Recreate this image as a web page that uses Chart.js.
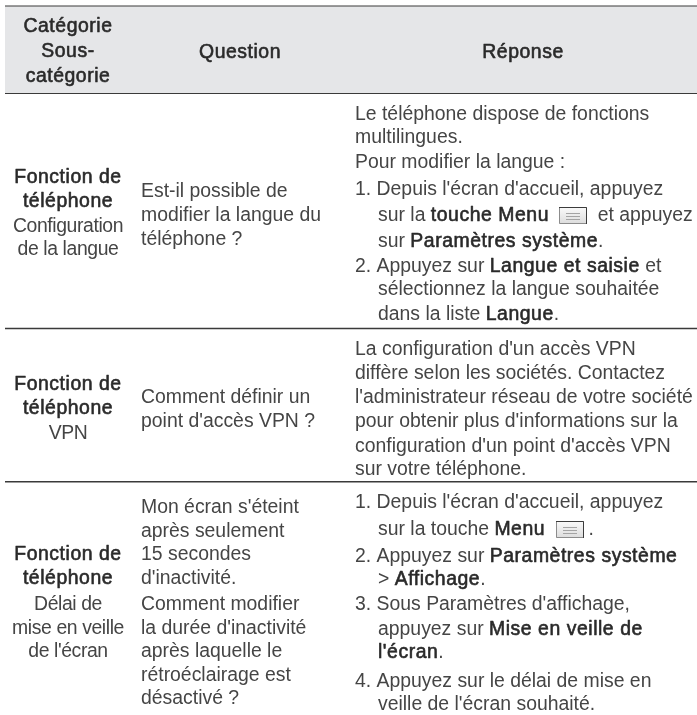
<!DOCTYPE html>
<html lang="fr">
<head>
<meta charset="utf-8">
<title>Catégorie Question Réponse</title>
<script src="https://cdn.jsdelivr.net/npm/chart.js@4"></script>
<style>
  html, body { margin: 0; padding: 0; background: #fff; }
  canvas { display: block; }
</style>
</head>
<body>
<canvas id="chart" width="697" height="715"></canvas>
<script>
// Table text. *...* marks bold, # is the menu key icon, a leading tab is the list indent
const headerCategory = ['*Catégorie*', '*Sous-*', '*catégorie*'];
const headerQuestion = ['*Question*'];
const headerAnswer = ['*Réponse*'];

const categoryRow1 = ['*Fonction de*', '*téléphone*', 'Configuration', 'de la langue'];
const categoryRow2 = ['*Fonction de*', '*téléphone*', 'VPN'];
const categoryRow3 = ['*Fonction de*', '*téléphone*', 'Délai de', 'mise en veille', "de l'écran"];

const questionRow1 = ['Est-il possible de', 'modifier la langue du', 'téléphone ?'];
const questionRow2 = ['Comment définir un', "point d'accès VPN ?"];
const questionRow3 = ["Mon écran s'éteint", 'après seulement', '15 secondes', "d'inactivité.",
  'Comment modifier', "la durée d'inactivité", 'après laquelle le', 'rétroéclairage est', 'désactivé ?'];

const answerRow1 = ['Le téléphone dispose de fonctions', 'multilingues.', 'Pour modifier la langue :',
  "1. Depuis l'écran d'accueil, appuyez", '\tsur la *touche Menu* # et appuyez', '\tsur *Paramètres système*.',
  '2. Appuyez sur *Langue et saisie* et', '\tsélectionnez la langue souhaitée', '\tdans la liste *Langue*.'];
const answerRow2 = ["La configuration d'un accès VPN", 'diffère selon les sociétés. Contactez',
  "l'administrateur réseau de votre société", "pour obtenir plus d'informations sur la",
  "configuration d'un point d'accès VPN", 'sur votre téléphone.'];
const answerRow3 = ["1. Depuis l'écran d'accueil, appuyez", '\tsur la touche *Menu* #.',
  '2. Appuyez sur *Paramètres système*', '\t> *Affichage*.', "3. Sous Paramètres d'affichage,",
  '\tappuyez sur *Mise en veille de*', "\t*l'écran*.", '4. Appuyez sur le délai de mise en',
  "\tveille de l'écran souhaité."];

// Rules and band, in page units
const ruleTop = 6.5;
const ruleHeader = 93;
const ruleRow1 = 328.5;
const ruleRow2 = 481.7;
const tableLeft = 5;
const tableRight = 697;

const fontSize = 19.4;
const categorySpacing = '-0.4px';

// Baselines of each cell
const cells = [
  { lines: headerCategory, x: 68, align: 'center', base: [32, 57, 82] },
  { lines: headerQuestion, x: 240, align: 'center', base: [58] },
  { lines: headerAnswer, x: 523, align: 'center', base: [58] },
  { lines: categoryRow1, x: 68, align: 'center', spacing: categorySpacing, base: [183, 207, 232, 255] },
  { lines: questionRow1, x: 141, align: 'left', base: [197, 221, 245] },
  { lines: answerRow1, x: 355, align: 'left', base: [120, 143, 168, 195, 221, 247, 272, 295, 320] },
  { lines: categoryRow2, x: 68, align: 'center', spacing: categorySpacing, base: [390, 414, 439] },
  { lines: questionRow2, x: 141, align: 'left', base: [403, 427] },
  { lines: answerRow2, x: 355, align: 'left', base: [355, 379, 403, 427, 452, 475] },
  { lines: categoryRow3, x: 68, align: 'center', spacing: categorySpacing, base: [560, 584, 610, 634, 657] },
  { lines: questionRow3, x: 141, align: 'left', base: [513, 537, 560, 584, 610, 634, 657, 681, 704] },
  { lines: answerRow3, x: 355, align: 'left', base: [508, 535, 562, 585, 610, 635, 658, 687, 710] }
];

const textColor = '#454545';
const boldColor = '#2a2a2a';
const fontFamily = '"Liberation Sans"';
const boldSpacing = '0.55px';
const indent = 23;
const iconWidth = 28;
const iconHeight = 17;
const iconMargin = 5;

function parseLine(line) {
  const parts = [];
  line.split('*').forEach((chunk, i) => {
    const bits = chunk.split('#');
    bits.forEach((bit, j) => {
      if (j > 0) parts.push({ icon: true });
      if (bit) parts.push({ text: bit, bold: i % 2 === 1 });
    });
  });
  return parts;
}

function setPartFont(ctx, part, spacing) {
  ctx.font = fontSize + 'px ' + fontFamily;
  ctx.letterSpacing = part.bold ? boldSpacing : spacing;
}

function partWidth(ctx, part, spacing) {
  if (part.icon) return iconWidth + iconMargin * 2;
  setPartFont(ctx, part, spacing);
  return ctx.measureText(part.text).width;
}

function drawIcon(ctx, x, baseline) {
  const left = Math.round(x + iconMargin);
  const top = Math.round(baseline - 14);
  const grad = ctx.createLinearGradient(0, top, 0, top + iconHeight);
  grad.addColorStop(0, '#fafafa');
  grad.addColorStop(1, '#dcdcdc');
  ctx.fillStyle = grad;
  ctx.fillRect(left, top, iconWidth, iconHeight);
  ctx.lineWidth = 1;
  ctx.strokeStyle = '#8c8c8c';
  ctx.strokeRect(left + 0.5, top + 0.5, iconWidth - 1, iconHeight - 1);
  // dark edge on top and right
  ctx.strokeStyle = '#3c3c3c';
  ctx.beginPath();
  ctx.moveTo(left, top + 0.5);
  ctx.lineTo(left + iconWidth - 0.5, top + 0.5);
  ctx.lineTo(left + iconWidth - 0.5, top + iconHeight);
  ctx.stroke();
  ctx.strokeStyle = '#a4a4a4';
  [6, 9, 12].forEach(dy => {
    ctx.beginPath();
    ctx.moveTo(left + 7, top + dy + 0.5);
    ctx.lineTo(left + iconWidth - 7, top + dy + 0.5);
    ctx.stroke();
  });
}

const tableText = {
  id: 'tableText',
  afterDatasetsDraw(chart) {
    const { ctx, scales } = chart;
    ctx.save();
    ctx.textBaseline = 'alphabetic';
    ctx.textAlign = 'left';
    ctx.lineJoin = 'round';
    cells.forEach(cell => {
      const spacing = cell.spacing || '0px';
      cell.lines.forEach((line, i) => {
        let x = cell.x;
        let raw = line;
        if (raw[0] === '\t') { x += indent; raw = raw.slice(1); }
        const parts = parseLine(raw);
        if (cell.align === 'center') {
          x -= parts.reduce((sum, p) => sum + partWidth(ctx, p, spacing), 0) / 2;
        }
        let px = scales.x.getPixelForValue(x);
        const py = scales.y.getPixelForValue(cell.base[i]);
        parts.forEach(part => {
          const w = partWidth(ctx, part, spacing);
          if (part.icon) {
            drawIcon(ctx, px, py);
          } else {
            setPartFont(ctx, part, spacing);
            ctx.fillStyle = part.bold ? boldColor : textColor;
            ctx.fillText(part.text, px, py);
            if (part.bold) {
              // the original weight is a medium, between regular and bold
              ctx.strokeStyle = boldColor;
              ctx.lineWidth = 0.6;
              ctx.strokeText(part.text, px, py);
            }
          }
          px += w;
        });
      });
    });
    ctx.restore();
  }
};

const ruleLine = (y, width) => ({
  data: [{ x: tableLeft, y }, { x: tableRight, y }],
  showLine: true,
  borderColor: '#3a3a3a',
  borderWidth: width,
  pointRadius: 0
});

new Chart(document.getElementById('chart').getContext('2d'), {
  type: 'scatter',
  data: {
    datasets: [
      {
        // header band
        data: [{ x: tableLeft, y: ruleTop }, { x: tableRight, y: ruleTop }],
        showLine: true,
        borderWidth: 0,
        pointRadius: 0,
        backgroundColor: '#e5e6e8',
        fill: { value: ruleHeader }
      },
      ruleLine(ruleTop, 2),
      ruleLine(ruleHeader, 2),
      ruleLine(ruleRow1, 1.5),
      ruleLine(ruleRow2, 1.5)
    ]
  },
  options: {
    responsive: false,
    animation: false,
    layout: { padding: 0 },
    plugins: { legend: { display: false }, tooltip: { enabled: false } },
    scales: {
      x: { type: 'linear', display: false, min: 0, max: 697 },
      y: { type: 'linear', display: false, min: 0, max: 715, reverse: true }
    }
  },
  plugins: [tableText]
});
</script>
</body>
</html>
